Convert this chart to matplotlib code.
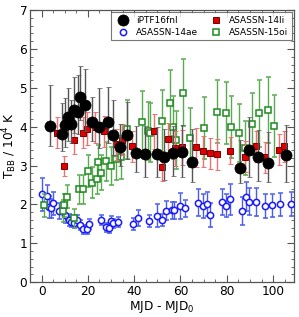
import matplotlib
matplotlib.use("Agg")
import matplotlib.pyplot as plt
from matplotlib.ticker import MultipleLocator
from matplotlib.lines import Line2D
import numpy as np

# iPTF16fnl
fnl_x = [3.8, 8.9, 10.2, 11.6, 12.8, 13.8, 15.8, 16.7, 18.7, 21.9, 24.8, 28.7, 30.9, 33.8, 36.7,
         40.7, 44.7, 49.7, 52.7, 56.8, 60.6, 65.0, 85.6, 89.6, 93.6, 97.6, 105.5]
fnl_y = [4.03, 3.82, 4.04, 4.24, 4.08, 4.43, 4.37, 4.77, 4.55, 4.12, 4.00, 4.12, 3.78, 3.48, 3.78,
         3.33, 3.31, 3.30, 3.23, 3.32, 3.35, 3.08, 2.95, 3.41, 3.21, 3.07, 3.27]
fnl_lo = [0.52, 0.45, 0.55, 0.60, 0.50, 0.60, 0.55, 0.60, 0.65, 0.50, 0.55, 0.55, 0.50, 0.50, 0.60,
          0.50, 0.60, 0.60, 0.60, 0.60, 0.65, 0.50, 0.40, 0.70, 0.60, 0.50, 0.70]
fnl_hi = [1.05, 0.78, 0.70, 0.76, 0.60, 0.85, 0.96, 0.80, 0.93, 0.65, 1.00, 0.90, 0.90, 0.60, 0.85,
          0.70, 0.70, 0.70, 0.70, 0.70, 0.70, 0.85, 0.70, 0.85, 0.70, 0.80, 0.77]

# ASASSN-14li
li_x = [6.5, 9.9, 13.8, 17.7, 19.7, 22.9, 26.9, 32.0, 34.8, 38.9, 48.6, 51.9, 54.8, 57.7, 60.6,
        66.7, 69.6, 72.9, 75.9, 81.6, 87.7, 92.6, 96.6, 102.6, 104.8]
li_y = [3.84, 2.98, 3.66, 3.84, 3.95, 3.98, 3.88, 3.55, 3.66, 3.50, 3.88, 2.96, 3.69, 3.45, 3.47,
        3.47, 3.37, 3.32, 3.29, 3.38, 3.23, 3.50, 3.21, 3.41, 3.50]
li_err = [0.40, 0.26, 0.35, 0.40, 0.43, 0.40, 0.40, 0.40, 0.40, 0.40, 0.45, 0.35, 0.40, 0.45, 0.45,
          0.50, 0.40, 0.40, 0.40, 0.35, 0.40, 0.40, 0.40, 0.40, 0.40]

# ASASSN-14ae
ae_x = [0.2, 2.5, 3.0, 4.1, 5.0, 7.4, 10.1, 11.8, 12.9, 14.0, 15.4, 16.4, 17.8, 19.5, 20.7,
        25.6, 27.7, 29.0, 29.9, 30.9, 32.8, 39.6, 41.8, 46.5, 49.7, 51.9, 53.8, 56.3, 57.3,
        59.6, 62.0, 67.6, 69.6, 71.6, 72.9, 78.0, 79.7, 81.2, 86.7, 88.1, 89.7, 92.8, 96.7,
        99.7, 102.8, 107.7]
ae_y = [2.26, 2.21, 1.94, 1.90, 2.03, 1.83, 1.72, 1.60, 1.55, 1.52, 1.60, 1.47, 1.36, 1.36, 1.50,
        1.61, 1.41, 1.39, 1.57, 1.51, 1.55, 1.49, 1.65, 1.57, 1.71, 1.60, 1.84, 1.85, 1.85,
        1.96, 1.90, 2.04, 1.96, 2.01, 1.73, 2.07, 1.97, 2.13, 1.83, 2.20, 2.07, 2.06, 1.96,
        1.98, 2.00, 2.01]
ae_err = [0.42, 0.30, 0.28, 0.25, 0.30, 0.20, 0.20, 0.15, 0.12, 0.12, 0.12, 0.12, 0.12, 0.12, 0.12,
          0.13, 0.12, 0.12, 0.13, 0.12, 0.12, 0.15, 0.20, 0.15, 0.30, 0.15, 0.25, 0.22, 0.22,
          0.33, 0.22, 0.35, 0.30, 0.30, 0.30, 0.33, 0.30, 0.40, 0.35, 0.37, 0.35, 0.35, 0.30,
          0.30, 0.30, 0.30]

# ASASSN-15oi
oi_x = [1.2, 9.1, 9.6, 11.0, 13.8, 16.0, 17.8, 20.2, 21.7, 23.8, 24.2, 25.8, 28.0, 29.8, 32.3,
        34.1, 37.0, 43.2, 46.1, 46.8, 51.9, 55.5, 56.7, 58.1, 61.0, 63.9, 70.3, 75.8, 79.6,
        82.0, 85.2, 88.0, 91.0, 93.9, 97.6, 100.2]
oi_y = [1.98, 1.83, 1.98, 2.20, 1.64, 2.39, 2.39, 2.85, 2.56, 2.66, 3.09, 2.82, 3.11, 2.99, 3.18,
        3.21, 3.93, 4.11, 3.89, 3.85, 4.14, 4.62, 3.98, 3.65, 4.88, 3.72, 3.96, 4.39, 4.36,
        4.00, 3.83, 3.45, 4.07, 4.34, 4.43, 4.02]
oi_err = [0.30, 0.28, 0.30, 0.30, 0.25, 0.37, 0.37, 0.41, 0.40, 0.40, 0.45, 0.45, 0.50, 0.50, 0.55,
          0.55, 0.75, 0.80, 0.75, 0.75, 0.80, 0.85, 0.80, 0.75, 0.85, 0.75, 0.80, 0.80, 0.80,
          0.80, 0.75, 0.70, 0.80, 0.85, 0.85, 0.80]

styles = {
    'ASASSN-14ae': dict(marker='o', ms=4.5, mfc='white', mec='#1a1aff', mew=1.1),
    'ASASSN-15oi': dict(marker='s', ms=4.6, mfc='white', mec='#1e8a1e', mew=1.1),
    'ASASSN-14li': dict(marker='s', ms=4.4, mfc='#e00000', mec='#7a0000', mew=0.7),
    'iPTF16fnl': dict(marker='o', ms=8.0, mfc='black', mec='black', mew=0.5),
}

fig = plt.figure(figsize=(2.99, 3.17), dpi=100)
ax = fig.add_axes([0.1003, 0.110, 0.8827, 0.858])

ax.errorbar(ae_x, ae_y, yerr=ae_err, ls='none', ecolor='#4a5cf0', elinewidth=1.0,
            capsize=1.8, capthick=0.9, zorder=3, **styles['ASASSN-14ae'])
ax.errorbar(oi_x, oi_y, yerr=oi_err, ls='none', ecolor='#5aaa50', elinewidth=1.0,
            capsize=1.8, capthick=0.9, zorder=4, **styles['ASASSN-15oi'])
ax.errorbar(li_x, li_y, yerr=li_err, ls='none', ecolor='#f07070', elinewidth=1.0,
            capsize=1.8, capthick=0.9, zorder=5, **styles['ASASSN-14li'])
ax.errorbar(fnl_x, fnl_y, yerr=[fnl_lo, fnl_hi], ls='none', ecolor='#555555', elinewidth=1.0,
            capsize=1.8, capthick=0.9, zorder=6, **styles['iPTF16fnl'])

ax.set_xlim(-5, 109)
ax.set_ylim(0, 7)
ax.xaxis.set_major_locator(MultipleLocator(20))
ax.xaxis.set_minor_locator(MultipleLocator(5))
ax.yaxis.set_major_locator(MultipleLocator(1))
ax.yaxis.set_minor_locator(MultipleLocator(0.2))
ax.tick_params(which='both', direction='in', top=True, right=True, colors='#555555',
               labelcolor='black', labelsize=8.7, pad=2)
ax.tick_params(which='major', length=5, width=0.8)
ax.tick_params(which='minor', length=2.5, width=0.6)
for s in ax.spines.values():
    s.set_color('#555555')
    s.set_linewidth(0.9)

ax.set_xlabel('MJD - MJD$_0$', fontsize=8.7, labelpad=1)
ax.set_ylabel('T$_{\\rm BB}$ / 10$^4$ K', fontsize=8.7, labelpad=0)

order = ['iPTF16fnl', 'ASASSN-14ae', 'ASASSN-14li', 'ASASSN-15oi']
handles = [Line2D([], [], ls='none', **styles[k]) for k in order]
leg = ax.legend(handles, order, ncol=2, loc='upper right',
                fontsize=6.5, frameon=True, fancybox=False, edgecolor='#555555',
                borderaxespad=0.25, handletextpad=0.4, columnspacing=1.0, borderpad=0.4,
                labelspacing=0.3)
leg.get_frame().set_linewidth(0.8)

fig.savefig('out.png', dpi=100)
